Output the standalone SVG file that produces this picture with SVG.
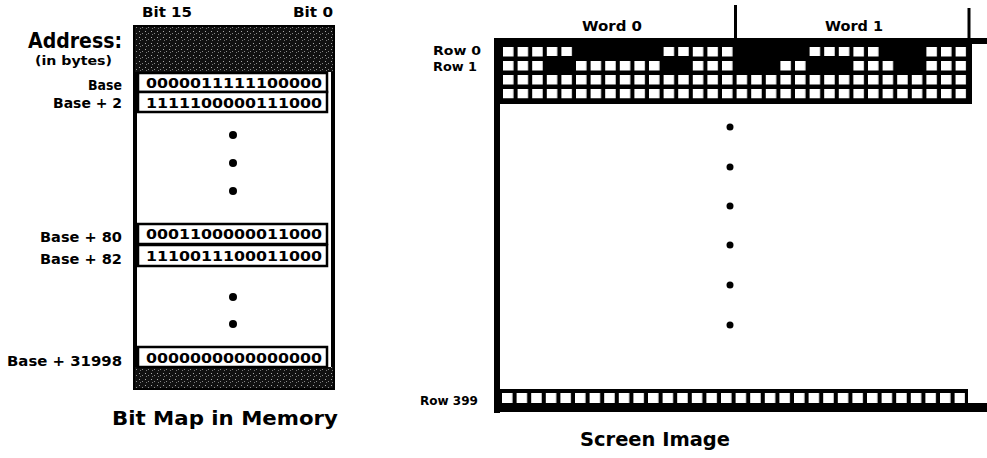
<svg xmlns="http://www.w3.org/2000/svg" width="987" height="458" viewBox="0 0 987 458">
<style>
text{font-family:"DejaVu Sans","Liberation Sans",sans-serif;font-weight:bold;fill:#000}
.bits{font-size:14px}
.row{fill:#fff;stroke:#000;stroke-width:2.5}
</style>
<defs>
<pattern id="stip" patternUnits="userSpaceOnUse" width="6" height="6">
<rect width="6" height="6" fill="#111"/>
<rect x="1" y="1" width="1" height="1" fill="#aaa"/>
<rect x="4" y="3" width="1" height="1" fill="#888"/>
<rect x="2" y="4" width="1" height="1" fill="#777"/>
</pattern>
<pattern id="cells" patternUnits="userSpaceOnUse" x="503" y="47" width="14.6" height="14">
<rect width="10.5" height="9.5" fill="#fff"/>
</pattern>
<pattern id="cells2" patternUnits="userSpaceOnUse" x="502" y="393" width="14.6" height="20">
<rect width="10.5" height="10" fill="#fff"/>
</pattern>
</defs>
<rect width="987" height="458" fill="#fff"/>

<g id="memory">
<rect x="135" y="27" width="198" height="361" fill="#fff" stroke="#000" stroke-width="4"/>
<rect x="135" y="27" width="198" height="45" fill="url(#stip)"/>
<rect x="135" y="367" width="198" height="21" fill="url(#stip)"/>
<rect class="row" x="138" y="73" width="189" height="19"/>
<rect class="row" x="138" y="92" width="189" height="20"/>
<rect class="row" x="138" y="224" width="189" height="20"/>
<rect class="row" x="138" y="245" width="189" height="21"/>
<rect class="row" x="138" y="347" width="189" height="20"/>
<text class="bits" x="146" y="87.5" textLength="176" lengthAdjust="spacingAndGlyphs">0000011111100000</text>
<text class="bits" x="146" y="107.5" textLength="176" lengthAdjust="spacingAndGlyphs">1111100000111000</text>
<text class="bits" x="146" y="239" textLength="176" lengthAdjust="spacingAndGlyphs">0001100000011000</text>
<text class="bits" x="146" y="261" textLength="176" lengthAdjust="spacingAndGlyphs">1110011100011000</text>
<text class="bits" x="146" y="362.5" textLength="176" lengthAdjust="spacingAndGlyphs">0000000000000000</text>
<circle cx="233" cy="135" r="4"/>
<circle cx="233" cy="163" r="4"/>
<circle cx="233" cy="191" r="4"/>
<circle cx="233" cy="297" r="4"/>
<circle cx="233" cy="324" r="4"/>
</g>

<g id="memory-labels">
<text x="142" y="17" style="font-size:13.5px" textLength="50" lengthAdjust="spacingAndGlyphs">Bit 15</text>
<text x="293" y="17" style="font-size:13.5px" textLength="40" lengthAdjust="spacingAndGlyphs">Bit 0</text>
<text x="28" y="48" style="font-size:21px" textLength="94" lengthAdjust="spacingAndGlyphs">Address:</text>
<text x="35" y="65" style="font-size:13px" textLength="77" lengthAdjust="spacingAndGlyphs">(in bytes)</text>
<text x="88" y="90" style="font-size:13.5px" textLength="34" lengthAdjust="spacingAndGlyphs">Base</text>
<text x="53" y="108" style="font-size:13.5px" textLength="69" lengthAdjust="spacingAndGlyphs">Base + 2</text>
<text x="40" y="242" style="font-size:13.5px" textLength="82" lengthAdjust="spacingAndGlyphs">Base + 80</text>
<text x="40" y="264" style="font-size:13.5px" textLength="82" lengthAdjust="spacingAndGlyphs">Base + 82</text>
<text x="7" y="366" style="font-size:13.5px" textLength="115" lengthAdjust="spacingAndGlyphs">Base + 31998</text>
<text x="112" y="425" style="font-size:20px" textLength="226" lengthAdjust="spacingAndGlyphs">Bit Map in Memory</text>
</g>

<g id="screen">
<rect x="494" y="38" width="493" height="6"/>
<rect x="494" y="38" width="478" height="66"/>
<rect x="503" y="47" width="463.2" height="51.5" fill="url(#cells)"/>
<rect x="574" y="44" width="87.6" height="14"/>
<rect x="734.6" y="44" width="73" height="14"/>
<rect x="880.6" y="44" width="43.8" height="14"/>
<rect x="544.8" y="56" width="29.2" height="16"/>
<rect x="661.6" y="56" width="29.2" height="16"/>
<rect x="734.6" y="56" width="43.8" height="16"/>
<rect x="807.6" y="56" width="43.8" height="16"/>
<rect x="895.2" y="56" width="29.2" height="16"/>
<rect x="494" y="38" width="6" height="375"/>
<rect x="494" y="389" width="474" height="16"/>
<rect x="494" y="403" width="493" height="9"/>
<rect x="502" y="393" width="463" height="10" fill="url(#cells2)"/>
<circle cx="730" cy="127" r="3.5"/>
<circle cx="730" cy="167" r="3.5"/>
<circle cx="730" cy="206" r="3.5"/>
<circle cx="730" cy="245" r="3.5"/>
<circle cx="730" cy="285" r="3.5"/>
<circle cx="730" cy="325" r="3.5"/>
</g>

<g id="connectors" stroke="#000" stroke-width="3">
<line x1="735.5" y1="5" x2="735.5" y2="38"/>
<line x1="969" y1="8" x2="969" y2="38"/>
</g>

<g id="screen-labels">
<text x="582" y="31" style="font-size:14px" textLength="60" lengthAdjust="spacingAndGlyphs">Word 0</text>
<text x="825" y="31" style="font-size:14px" textLength="58" lengthAdjust="spacingAndGlyphs">Word 1</text>
<text x="433" y="55" style="font-size:12px" textLength="48" lengthAdjust="spacingAndGlyphs">Row 0</text>
<text x="433" y="70.5" style="font-size:12px" textLength="44" lengthAdjust="spacingAndGlyphs">Row 1</text>
<text x="420" y="405" style="font-size:13px" textLength="58" lengthAdjust="spacingAndGlyphs">Row 399</text>
<text x="580" y="446" style="font-size:20px" textLength="150" lengthAdjust="spacingAndGlyphs">Screen Image</text>
</g>
</svg>
